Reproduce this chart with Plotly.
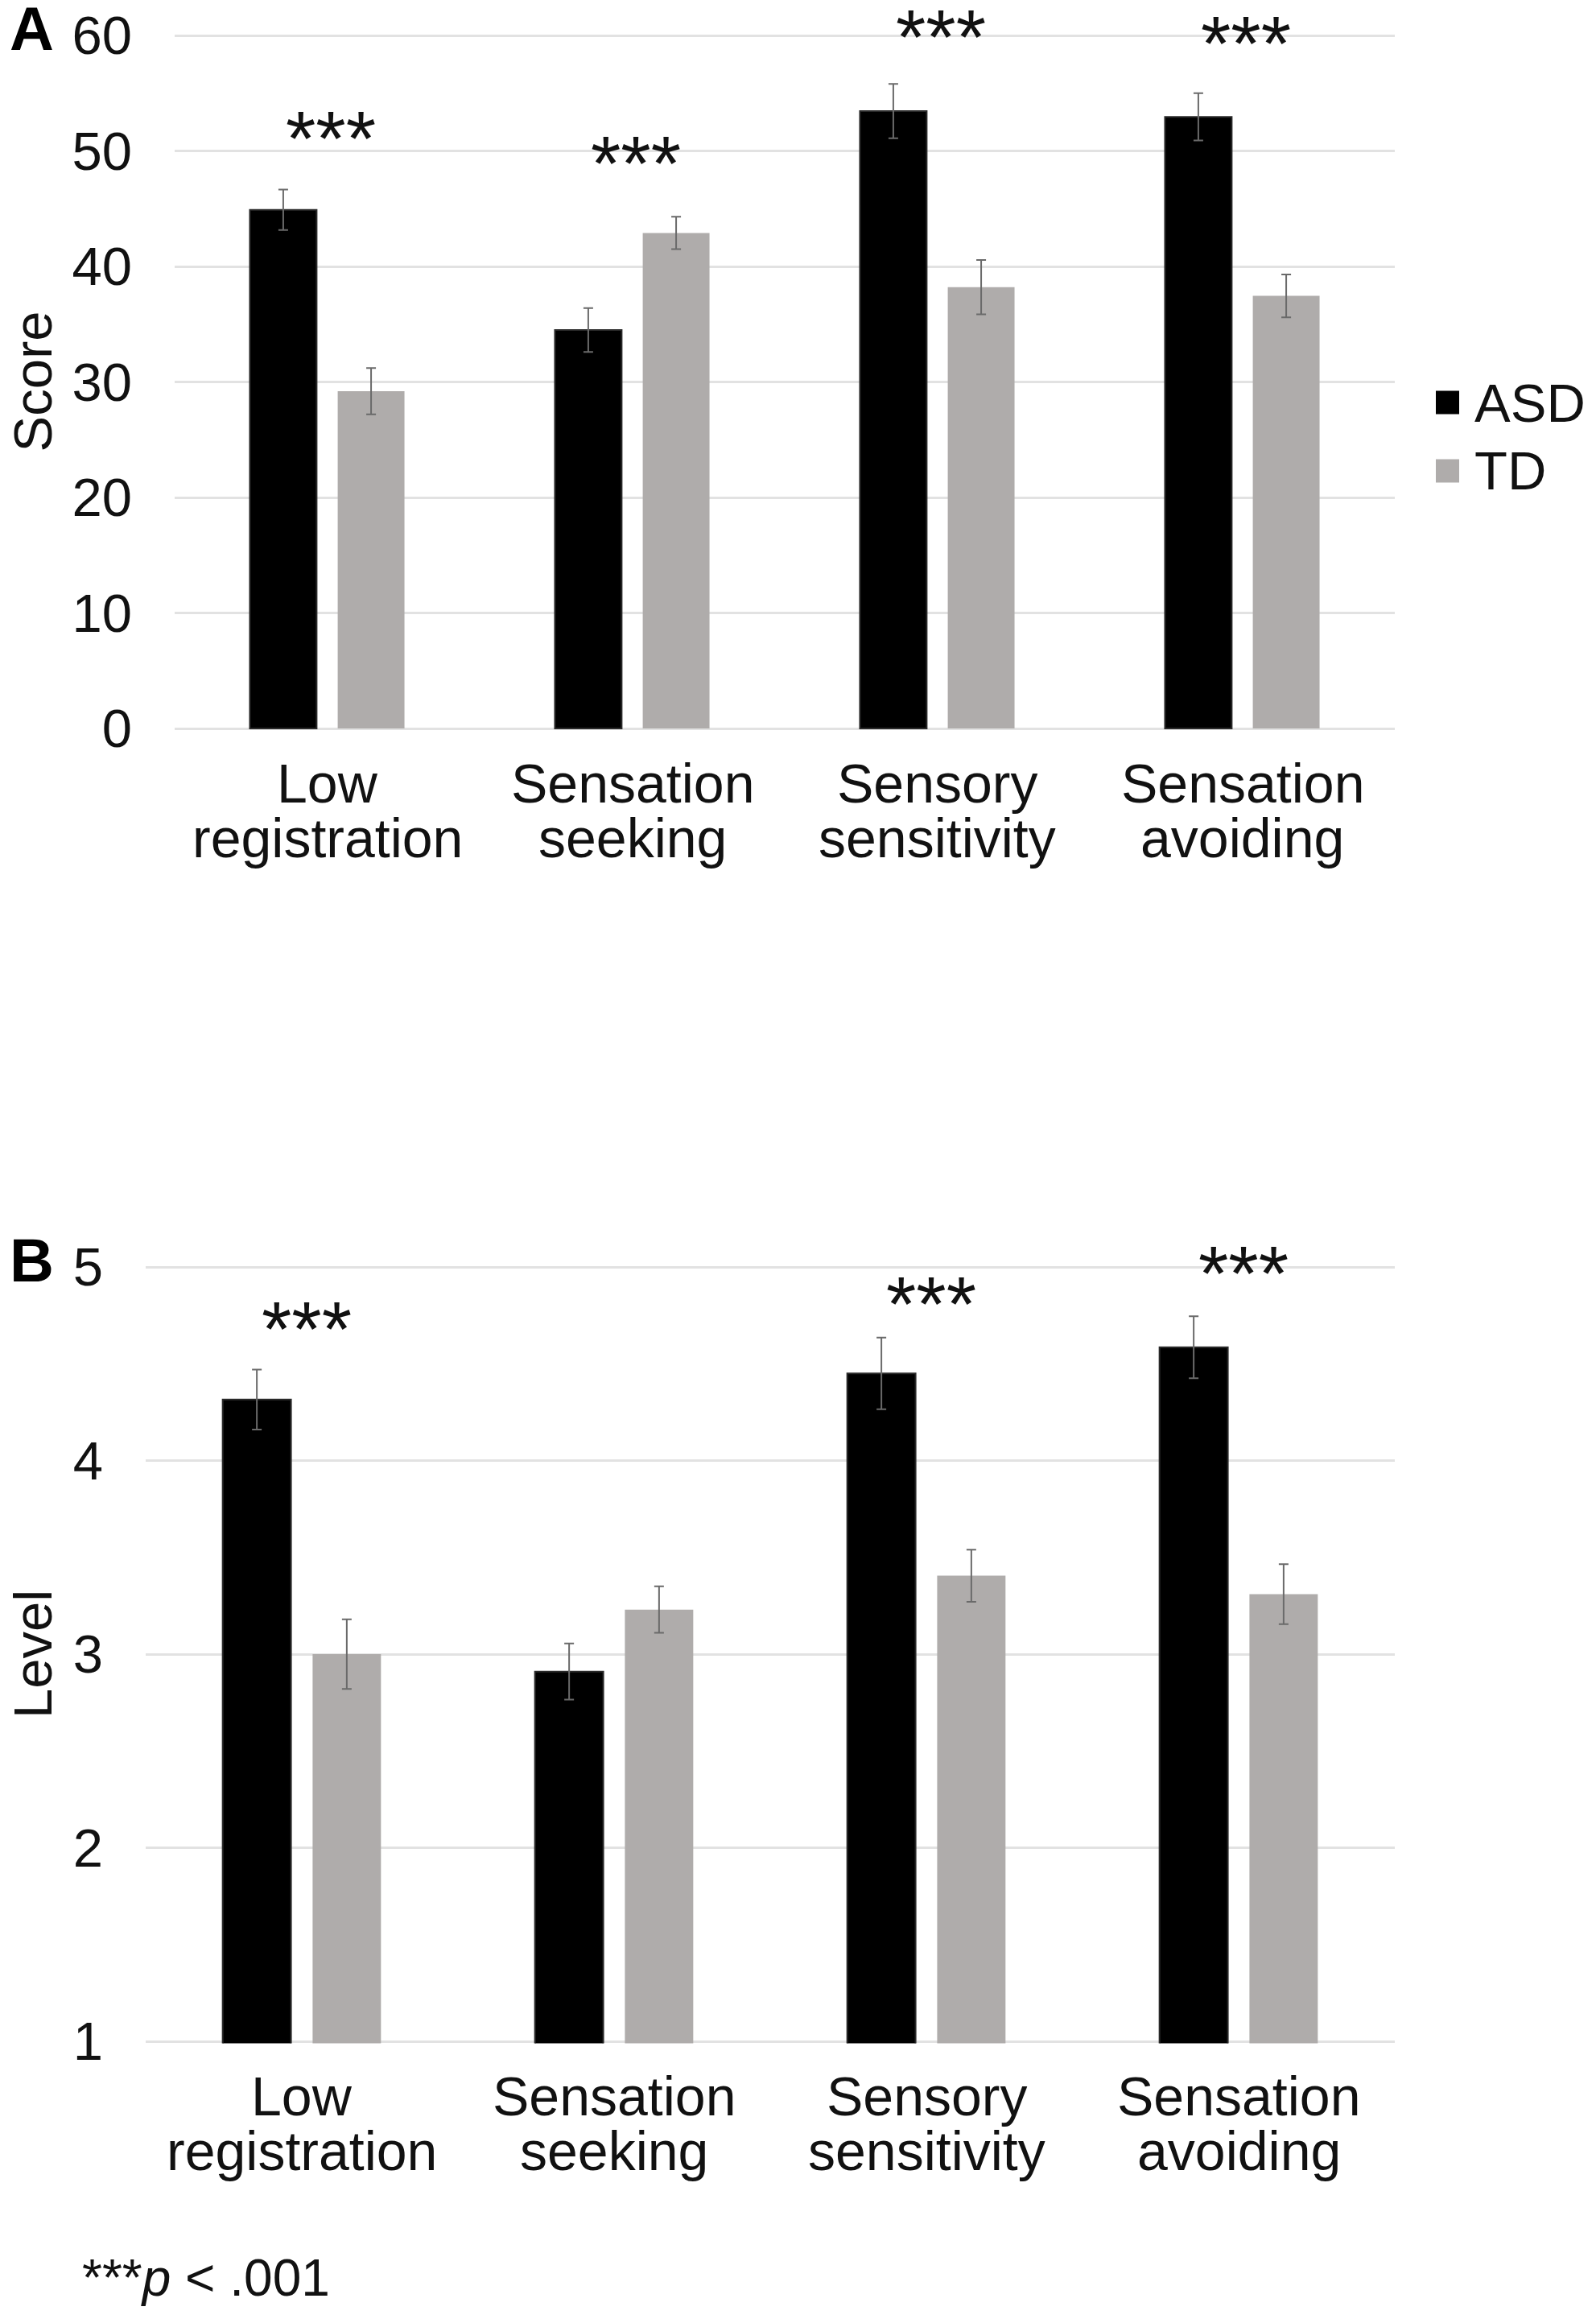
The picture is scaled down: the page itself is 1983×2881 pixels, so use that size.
import plotly.graph_objects as go

# ---------------- data ----------------
categories = ["Low registration", "Sensation seeking", "Sensory sensitivity", "Sensation avoiding"]
cat_lines = [["Low", "registration"], ["Sensation", "seeking"], ["Sensory", "sensitivity"], ["Sensation", "avoiding"]]
groups = ["ASD", "TD"]

score_asd = [44.9, 34.5, 53.45, 52.95]
score_asd_err = [1.75, 1.9, 2.35, 2.05]
score_td = [29.2, 42.9, 38.2, 37.45]
score_td_err = [2.0, 1.4, 2.35, 1.85]
score_stars = ["***", "***", "***", "***"]
score_star_y = [52.0, 49.8, 60.75, 60.2]
score_ticks = [0, 10, 20, 30, 40, 50, 60]
score_range = [0, 60]

level_asd = [4.315, 2.91, 4.45, 4.585]
level_asd_err = [0.155, 0.145, 0.185, 0.16]
level_td = [3.0, 3.23, 3.405, 3.31]
level_td_err = [0.18, 0.12, 0.135, 0.155]
level_stars = ["***", "", "***", "***"]
level_star_y = [4.73, None, 4.86, 5.015]
level_ticks = [1, 2, 3, 4, 5]
level_range = [1, 5]

footnote = "***<i>p</i> < .001"

# ---------------- geometry / style ----------------
OFF = 8                      # page body margin
W, H = 1983 - OFF, 2881 - OFF
FONT = "Liberation Sans, Arial, Helvetica, sans-serif"
TXT = "#111111"
ASD_COLOR = "#000000"
TD_COLOR = "#afacab"
ERR_COLOR = "#6a6a6a"
GRID = "#e2e2e2"
FS = 67
EXT = 2.5                    # px of padding so end gridlines are drawn

def px(x):
    return (x - OFF) / W

def py(y):
    return 1 - (y - OFF) / H

# plot boxes in page pixels: left, right, top(value max), bottom(value min)
boxA = (217, 1733, 44, 905)
boxB = (181, 1733, 1574, 2536)

def dom_and_range(box, rng):
    l, r, t, b = box
    ppu = (b - t) / (rng[1] - rng[0])
    e = EXT / ppu
    return ([px(l), px(r)], [py(b + EXT), py(t - EXT)], [rng[0] - e, rng[1] + e])

domA_x, domA_y, rA = dom_and_range(boxA, score_range)
domB_x, domB_y, rB = dom_and_range(boxB, level_range)

fig = go.Figure()

def add_bars(vals_a, err_a, vals_t, err_t, xa, ya):
    fig.add_trace(go.Bar(
        x=categories, y=vals_a, name=groups[0], xaxis=xa, yaxis=ya,
        marker=dict(color=ASD_COLOR, line=dict(color="#2a2a2a", width=2)),
        error_y=dict(type="data", array=err_a, color=ERR_COLOR, thickness=2, width=6),
        showlegend=False, offsetgroup="a"))
    fig.add_trace(go.Bar(
        x=categories, y=vals_t, name=groups[1], xaxis=xa, yaxis=ya,
        marker=dict(color=TD_COLOR, line=dict(color=TD_COLOR, width=0)),
        error_y=dict(type="data", array=err_t, color=ERR_COLOR, thickness=2, width=6),
        showlegend=False, offsetgroup="b"))

add_bars(score_asd, score_asd_err, score_td, score_td_err, "x", "y")
add_bars(level_asd, level_asd_err, level_td, level_td_err, "x2", "y2")

axis_common = dict(showline=False, zeroline=False, ticks="", showgrid=True,
                   gridcolor=GRID, gridwidth=3, automargin=False,
                   ticklabeloverflow="allow",
                   tickfont=dict(family=FONT, size=FS, color=TXT))
xcommon = dict(showticklabels=False, showgrid=False, zeroline=False, showline=False,
               ticks="", automargin=False)

fig.update_layout(
    template="none",
    width=W, height=H, autosize=False,
    margin=dict(l=0, r=0, t=0, b=0, pad=0),
    paper_bgcolor="white", plot_bgcolor="white",
    barmode="group", bargap=0.424, bargroupgap=0.24,
    showlegend=False,
    xaxis=dict(domain=domA_x, anchor="y", **xcommon),
    yaxis=dict(domain=domA_y, anchor="x", range=rA, tickvals=score_ticks,
               ticklabelstandoff=52, **axis_common),
    xaxis2=dict(domain=domB_x, anchor="y2", **xcommon),
    yaxis2=dict(domain=domB_y, anchor="x2", range=rB, tickvals=level_ticks,
                ticklabelstandoff=52, **axis_common),
)

def to_paper(v, rng, dom):
    return dom[0] + (v - rng[0]) / (rng[1] - rng[0]) * (dom[1] - dom[0])

ann = []
# significance stars (paper space, through each panel's y scale, so stars
# above the top gridline still show)
star_box = dict(showarrow=False, yanchor="middle", valign="middle", height=80,
                borderpad=0, borderwidth=0, font=dict(family=FONT, size=96, color=TXT))
for cat, s, yv in zip(categories, score_stars, score_star_y):
    if s:
        ann.append(dict(x=cat, y=to_paper(yv, rA, domA_y), xref="x", yref="paper",
                        text=s, yshift=-12, xshift=4, **star_box))
for cat, s, yv in zip(categories, level_stars, level_star_y):
    if s:
        ann.append(dict(x=cat, y=to_paper(yv, rB, domB_y), xref="x2", yref="paper",
                        text=s, yshift=-11, xshift=6, **star_box))

# category labels (two tightly spaced lines each)
for xr, box in (("x", boxA), ("x2", boxB)):
    for cat, lines in zip(categories, cat_lines):
        for i, ln in enumerate(lines):
            ann.append(dict(x=cat, y=py(box[3]), xref=xr, yref="paper", text=ln,
                            showarrow=False, yanchor="top", valign="bottom",
                            height=66, borderpad=0, borderwidth=0,
                            yshift=-(40 + 68 * i),
                            font=dict(family=FONT, size=FS + 1, color=TXT)))

# axis titles
ann.append(dict(x=px(40), y=py((boxA[2] + boxA[3]) / 2), xref="paper", yref="paper",
                text="Score", textangle=-90, showarrow=False, xanchor="center",
                yanchor="middle", font=dict(family=FONT, size=FS, color=TXT)))
ann.append(dict(x=px(40), y=py((boxB[2] + boxB[3]) / 2), xref="paper", yref="paper",
                text="Level", textangle=-90, showarrow=False, xanchor="center",
                yanchor="middle", font=dict(family=FONT, size=FS, color=TXT)))

# panel letters
ann.append(dict(x=px(10), y=py(36), xref="paper", yref="paper", text="<b>A</b>",
                showarrow=False, xanchor="left", yanchor="middle",
                font=dict(family=FONT, size=76, color="#000")))
ann.append(dict(x=px(10), y=py(1565), xref="paper", yref="paper", text="<b>B</b>",
                showarrow=False, xanchor="left", yanchor="middle",
                font=dict(family=FONT, size=76, color="#000")))

# footnote
ann.append(dict(x=px(100), y=py(2830), xref="paper", yref="paper", text=footnote,
                showarrow=False, xanchor="left", yanchor="middle",
                font=dict(family=FONT, size=64, color=TXT)))

# legend (manual, large swatches)
shapes = []
leg_colors = [ASD_COLOR, TD_COLOR]
leg_y = [500, 585]
for g, c, yy in zip(groups, leg_colors, leg_y):
    shapes.append(dict(type="rect", xref="paper", yref="paper",
                       x0=px(1784), x1=px(1813), y0=py(yy + 14.5), y1=py(yy - 14.5),
                       fillcolor=c, line=dict(width=0)))
    ann.append(dict(x=px(1830), y=py(yy), xref="paper", yref="paper", text=g,
                    showarrow=False, xanchor="left", yanchor="middle",
                    font=dict(family=FONT, size=FS, color=TXT)))

fig.update_layout(annotations=ann, shapes=shapes)
fig.write_html("out.html")
